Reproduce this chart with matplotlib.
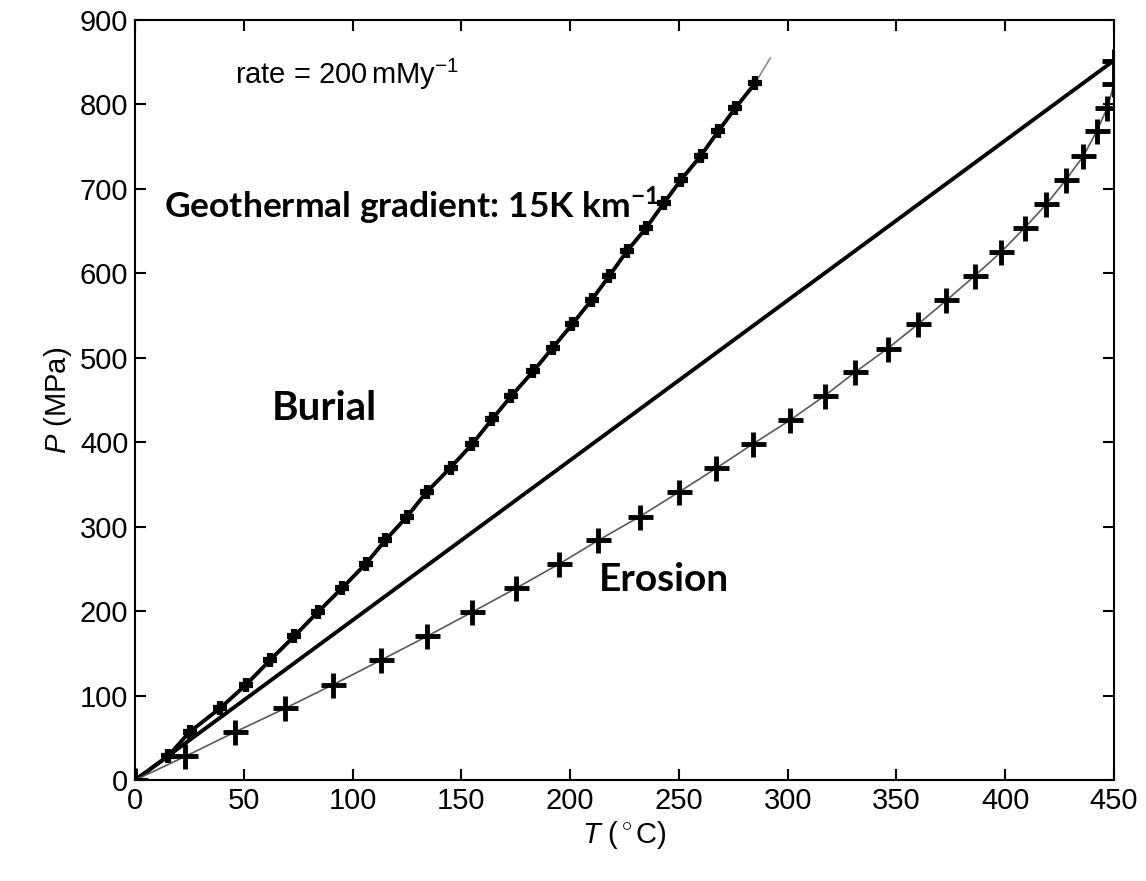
import numpy as np
import matplotlib
matplotlib.use("Agg")
import matplotlib.pyplot as plt

# -- data
burial_T = [0, 15, 25, 39, 51, 62, 73, 84, 95, 106, 115, 125, 134, 145, 155, 164,
            173, 183, 192, 201, 210, 218, 226, 235, 243, 251, 260, 268, 276, 285]
burial_P = [0, 28, 57, 85, 113, 142, 170, 199, 227, 256, 284, 312, 341, 370, 398, 427,
            455, 484, 512, 540, 569, 597, 626, 654, 683, 711, 739, 768, 796, 825]
burial_tail_T = [285, 292]
burial_tail_P = [825, 855]

erosion_T = [0, 23, 46, 69, 91, 113, 134, 155, 175, 195, 213, 232, 250, 267, 284, 301,
             317, 331, 346, 360, 373, 386, 398, 409, 419, 428, 436, 442, 447, 450, 450]
erosion_P = [0, 28, 57, 85, 113, 142, 170, 199, 227, 256, 284, 312, 341, 369, 398, 426,
             455, 483, 511, 540, 568, 597, 625, 654, 682, 711, 739, 768, 796, 824, 852]

geotherm_T = [0, 450]
geotherm_P = [0, 852]

xticks = [0, 50, 100, 150, 200, 250, 300, 350, 400, 450]
yticks = [0, 100, 200, 300, 400, 500, 600, 700, 800, 900]

plt.rcParams['font.family'] = ['Liberation Sans', 'DejaVu Sans']
plt.rcParams['mathtext.fontset'] = 'custom'
plt.rcParams['mathtext.rm'] = 'Liberation Sans'
plt.rcParams['mathtext.it'] = 'Liberation Sans:italic'
plt.rcParams['mathtext.bf'] = 'Lato:bold'

fig = plt.figure(figsize=(11.46, 8.81), dpi=100)
ax = fig.add_axes([0.118, 0.1146, 0.854, 0.8627])

# -- curves
ax.plot(burial_tail_T, burial_tail_P, color='0.55', lw=1.2)
ax.plot(burial_T, burial_P, color='black', lw=2.8, marker='+', ms=10, mew=4.5)
ax.plot(geotherm_T, geotherm_P, color='black', lw=2.8)
ax.plot(erosion_T, erosion_P, color='0.35', lw=1.2)
ax.plot(erosion_T, erosion_P, ls='none', color='black', marker='+', ms=18, mew=3.5)

# -- axes
ax.set_xlim(0, 450)
ax.set_ylim(0, 900)
ax.set_xticks(xticks)
ax.set_yticks(yticks)
ax.tick_params(direction='in', length=8, width=1.5, top=True, right=True,
               labelsize=21, pad=5)
for spine in ax.spines.values():
  spine.set_linewidth(1.5)
ax.set_xlabel(r'$T$ ($^\circ$C)', fontsize=21, labelpad=3)
ax.set_ylabel(r'$P$ (MPa)', fontsize=21, labelpad=4)

# -- annotations
ax.text(46, 836, r'rate = 200$\,$mMy$^{-1}$', fontsize=21, va='center')
ax.text(13, 681, r'Geothermal gradient: 15K km$^{\mathbf{-1}}$', fontsize=25.5,
        fontweight='bold', family='Lato', va='center')
ax.text(63, 440, 'Burial', fontsize=29, fontweight='bold', family='Lato', va='center')
ax.text(213, 237, 'Erosion', fontsize=28, fontweight='bold', family='Lato', va='center')

fig.savefig('out.png', dpi=100)
